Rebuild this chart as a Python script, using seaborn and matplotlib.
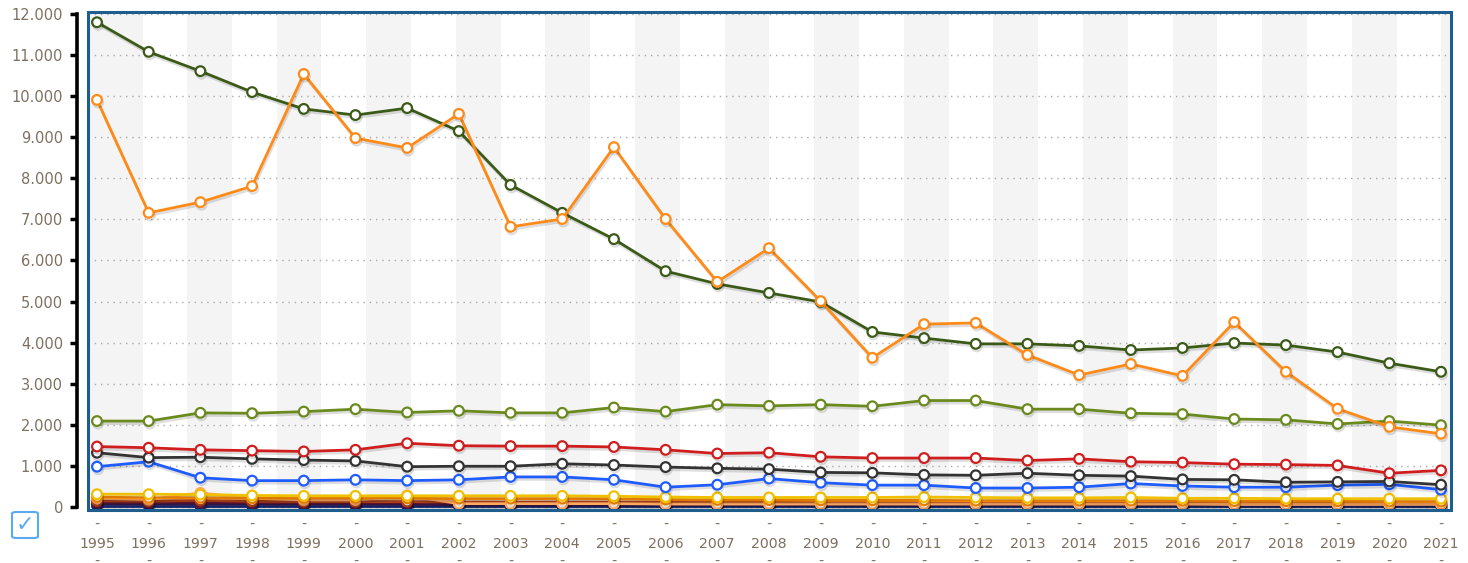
import pandas as pd
import matplotlib.pyplot as plt
import matplotlib.patheffects as pe
from matplotlib.patches import Rectangle, FancyBboxPatch
from matplotlib.ticker import FuncFormatter, MultipleLocator
import seaborn as sns

# data
years = list(range(1995, 2022))

s_darkgreen = [11800, 11080, 10610, 10100, 9690, 9540, 9710, 9150, 7840, 7160, 6520, 5740, 5430, 5210,
               4990, 4260, 4110, 3970, 3970, 3920, 3820, 3870, 3990, 3940, 3770, 3500, 3290]
s_orange = [9910, 7160, 7420, 7810, 10540, 8980, 8740, 9570, 6820, 7010, 8760, 7010, 5480, 6300,
            5010, 3630, 4450, 4480, 3700, 3210, 3480, 3190, 4500, 3290, 2390, 1950, 1780]
s_olive = [2090, 2090, 2290, 2280, 2320, 2380, 2300, 2340, 2290, 2290, 2420, 2320, 2490, 2460,
           2490, 2450, 2590, 2590, 2380, 2380, 2280, 2260, 2140, 2120, 2020, 2090, 1990]
s_red = [1470, 1440, 1390, 1370, 1350, 1390, 1550, 1490, 1480, 1480, 1460, 1390, 1300, 1320,
         1220, 1190, 1190, 1190, 1130, 1170, 1100, 1080, 1040, 1030, 1010, 820, 890]
s_black = [1320, 1200, 1210, 1170, 1140, 1120, 980, 990, 990, 1050, 1020, 970, 940, 920,
           840, 830, 780, 770, 820, 770, 750, 670, 660, 600, 610, 620, 540]
s_blue = [980, 1100, 710, 640, 640, 660, 640, 660, 730, 730, 660, 480, 540, 690,
          590, 530, 530, 460, 460, 480, 570, 510, 480, 480, 530, 550, 420]
s_yellow = [310, 310, 300, 280, 270, 270, 270, 270, 270, 270, 260, 240, 230, 230,
            230, 230, 240, 230, 220, 220, 230, 210, 210, 200, 200, 200, 200]
s_amber = [240, 220, 220, 210, 220, 220, 210, 200, 200, 200, 200, 180, 170, 170,
           160, 160, 160, 150, 150, 150, 150, 150, 140, 140, 140, 130, 130]
s_lightorange = [210, 180, 340, 210, 170, 170, 280, 80, 80, 80, 80, 70, 70, 70,
                 70, 70, 70, 70, 70, 70, 70, 70, 60, 60, 60, 60, 60]
s_rust = [150, 140, 160, 140, 130, 130, 130, 120, 120, 120, 120, 120, 120, 120,
          120, 120, 120, 120, 120, 120, 120, 120, 110, 110, 110, 110, 110]
s_maroon = [120, 110, 120, 110, 100, 100, 100, 90, 90, 90, 90, 90, 90, 90,
            90, 90, 90, 90, 90, 80, 80, 80, 80, 80, 80, 80, 80]
s_purple = [80, 70, 70, 70, 70, 70, 70, 50, 50, 50, 50, 50, 50, 50,
            50, 50, 50, 50, 50, 50, 50, 50, 50, 50, 50, 50, 50]
s_navy = [30] * 27

# drawing order: bottom first
series = [
    ('navy', s_navy, '#1c2a7a'),
    ('purple', s_purple, '#3c1c5c'),
    ('maroon', s_maroon, '#6d1530'),
    ('rust', s_rust, '#b5441a'),
    ('lightorange', s_lightorange, '#ffa860'),
    ('amber', s_amber, '#ff8c00'),
    ('yellow', s_yellow, '#f0c000'),
    ('blue', s_blue, '#1f5cff'),
    ('black', s_black, '#333333'),
    ('red', s_red, '#d01e1e'),
    ('olive', s_olive, '#6b8a1e'),
    ('darkgreen', s_darkgreen, '#3b5a17'),
    ('orange', s_orange, '#ff8a17'),
]

sns.set_style("white")
plt.rcParams['font.family'] = ['DejaVu Sans']

fig = plt.figure(figsize=(14.68, 5.63), dpi=100)
ax = fig.add_axes([88 / 1468, 1 - 510 / 563, (1451 - 88) / 1468, (510 - 12) / 563])

# alternating background bands
for k in range(-1, 15):
    x0 = (187 - 88 + 89.6 * k) / 1363
    lo = max(x0, 0)
    if k == -1:
        lo = 0
        x0 = (143 - 88 - 44.8) / 1363
    ax.add_patch(Rectangle((lo, 0), x0 + 44.8 / 1363 - lo, 1, transform=ax.transAxes,
                           facecolor='#f4f4f4', edgecolor='none', zorder=0))

shadow = [pe.SimpleLineShadow(offset=(0.8, -1.8), shadow_color='#000000', alpha=0.13), pe.Normal()]
for name, vals, col in series:
    df = pd.DataFrame({'year': years, 'value': vals})
    sns.lineplot(data=df, x='year', y='value', ax=ax, color=col, linewidth=2.0,
                 marker='o', markersize=7, markerfacecolor='white', markeredgecolor=col,
                 markeredgewidth=1.6, path_effects=shadow, zorder=3)

ax.set_xlim(1995 - 9 / 51.69, 2021 + 10 / 51.69)
ax.set_ylim(-75, 12050)
ax.set_xlabel('')
ax.set_ylabel('')

ax.yaxis.set_major_locator(MultipleLocator(1000))
ax.yaxis.set_major_formatter(FuncFormatter(lambda v, p: f"{int(round(v)):,}".replace(',', '.')))
ax.yaxis.grid(True, linestyle=(0, (1, 3.5)), color='#aaaaaa', linewidth=1.0)
ax.set_axisbelow(True)

ax.set_xticks(years)
ax.set_xticklabels([f"-\n{y}\n-" for y in years], linespacing=1.4)

lab_col = '#7f7060'
ax.tick_params(axis='x', length=0, pad=6, labelsize=10.2, labelcolor=lab_col)
ax.tick_params(axis='y', length=5, width=2.5, color='black', pad=5, labelsize=10.5,
               labelcolor=lab_col, left=True)

for s in ['top', 'right', 'bottom']:
    ax.spines[s].set_visible(False)
ax.spines['left'].set_position(('outward', 8))
ax.spines['left'].set_bounds(0, 12000)
ax.spines['left'].set_color('black')
ax.spines['left'].set_linewidth(2.6)

# blue plot frame
ax.add_patch(Rectangle((0, 0), 1, 1, transform=ax.transAxes, fill=False,
                       edgecolor='#1d5e8e', linewidth=2.2, zorder=10, clip_on=False))

# checkbox
fig.patches.append(FancyBboxPatch((12 / 1468, 1 - 538 / 563), 26 / 1468, 26 / 563,
                                  boxstyle='round,pad=0,rounding_size=0.003',
                                  transform=fig.transFigure, facecolor='white',
                                  edgecolor='#5aaaf0', linewidth=1.5))
fig.text(25 / 1468, 1 - 525 / 563, '\u2713', color='#5aaaf0', fontsize=16,
         ha='center', va='center')

fig.savefig('out.png', dpi=100)
